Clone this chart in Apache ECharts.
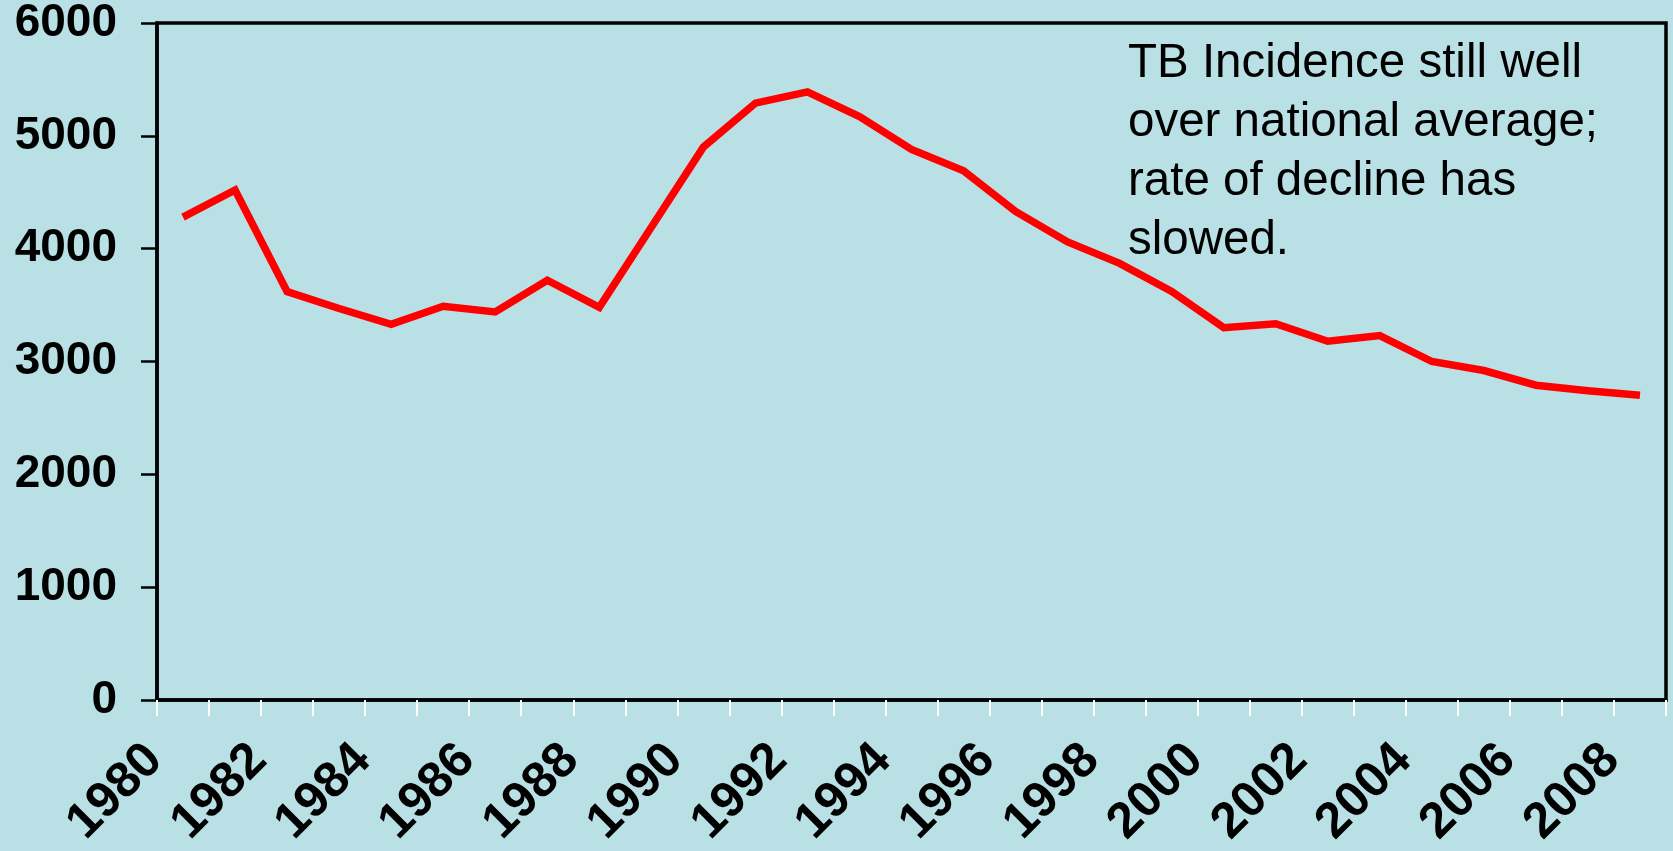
<!DOCTYPE html>
<html>
<head>
<meta charset="utf-8">
<script src="https://cdn.jsdelivr.net/npm/echarts@6/dist/echarts.min.js"></script>
<style>
html,body{margin:0;padding:0;background:#B9E0E4;}
#chart{width:1673px;height:851px;}
</style>
</head>
<body>
<div id="chart"></div>
<script>
const years = ['1980','1981','1982','1983','1984','1985','1986','1987','1988','1989',
  '1990','1991','1992','1993','1994','1995','1996','1997','1998','1999',
  '2000','2001','2002','2003','2004','2005','2006','2007','2008'];
const cases = [4280,4520,3620,3470,3330,3490,3440,3720,3480,4190,
  4900,5290,5390,5170,4880,4690,4330,4060,3870,3620,
  3300,3335,3180,3230,3000,2920,2790,2740,2700];
const yTicks = [0,1000,2000,3000,4000,5000,6000];
const note = 'TB Incidence still well\nover national average;\nrate of decline has\nslowed.';

const chart = echarts.init(document.getElementById('chart'));
const font = 'Liberation Sans, Arial, sans-serif';
chart.setOption({
  backgroundColor: '#B9E0E4',
  animation: false,
  grid: {left: 157, top: 23, right: 7, bottom: 151, show: true, borderColor: '#000', borderWidth: 3.5, backgroundColor: 'transparent'},
  xAxis: [{
    type: 'category',
    data: years,
    boundaryGap: true,
    axisLine: {lineStyle: {color: '#000', width: 3.5}},
    axisTick: {show: true, interval: 0, length: 16, inside: false, lineStyle: {color: '#fff', width: 2}},
    axisLabel: {
      interval: 1, rotate: 45, margin: 24, color: '#000',
      fontFamily: font, fontWeight: 'bold', fontSize: 50,
      padding: [0, 40, 0, 0]
    },
    splitLine: {show: false}
  }],
  yAxis: {
    type: 'value', min: yTicks[0], max: yTicks[yTicks.length - 1], interval: 1000,
    axisLine: {show: true, lineStyle: {color: '#000', width: 3.5}},
    axisTick: {show: true, length: 16, lineStyle: {color: '#000', width: 2.5}},
    axisLabel: {margin: 40, color: '#000', fontFamily: font, fontWeight: 'bold', fontSize: 46,
      formatter: v => String(v)},
    splitLine: {show: false}
  },
  graphic: [{
    type: 'text', left: 1128, top: 34,
    style: {text: note, fill: '#000', font: '47.5px ' + font, lineHeight: 59}
  }],
  series: [{
    type: 'line', data: cases, symbol: 'none', smooth: false,
    lineStyle: {color: '#FF0000', width: 7.5, join: 'miter'}
  }]
});
</script>
</body>
</html>
